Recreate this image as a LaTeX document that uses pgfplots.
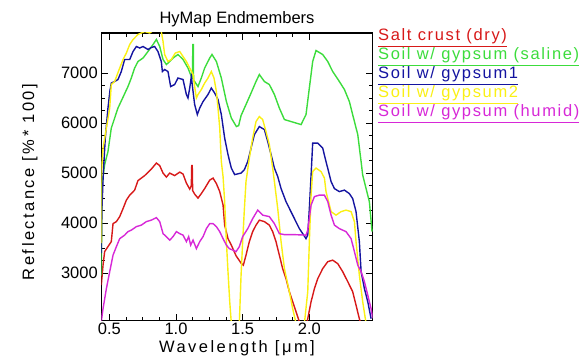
\documentclass[border=0pt]{standalone}
\usepackage{pgfplots}
\pgfplotsset{compat=1.18}
\usepackage{fontspec}
\setmainfont{Liberation Sans}
\newfontfamily\ylabfont[LetterSpace=15]{Liberation Sans}
\newfontfamily\xlabfont[LetterSpace=15]{Liberation Sans}
\newfontfamily\legfont[LetterSpace=10]{Liberation Sans}
\definecolor{cred}{RGB}{215,25,25}
\definecolor{cgreen}{RGB}{60,220,60}
\definecolor{cblue}{RGB}{20,20,160}
\definecolor{cyellow}{RGB}{250,240,20}
\definecolor{cmag}{RGB}{215,40,215}
\newcommand{\fs}{\fontsize{16.5bp}{19bp}\selectfont}
\begin{document}
\begin{tikzpicture}
\begin{axis}[
  at={(101.3bp,42.3bp)}, anchor=south west, scale only axis,
  width=271.4bp, height=287.7bp,
  xmin=0.44, xmax=2.475, ymin=2050, ymax=7800,
  xtick={0.5,1,1.5,2}, xticklabels={0.5,1.0,1.5,2.0},
  ytick={3000,4000,5000,6000,7000}, yticklabels={3000,4000,5000,6000,7000},
  minor x tick num=3, minor y tick num=3,
  major tick length=7bp, minor tick length=4bp,
  tick style={black, line width=0.8bp},
  axis line style={line width=1.2bp},
  tick label style={font=\fs},
  xticklabel style={inner sep=1bp, yshift=-1bp},
  /pgf/number format/assume math mode=true,
  every axis plot/.append style={line width=1.4bp, mark=none},
]
% Salt crust (dry)
\addplot[cred] coordinates {
(0.440,2760) (0.453,3160) (0.465,3430) (0.490,3530) (0.515,3630) (0.528,3990) (0.553,4030) (0.578,4130) (0.603,4290) (0.628,4460) (0.653,4560) (0.690,4660) (0.715,4850) (0.765,4950) (0.815,5080) (0.853,5200) (0.878,5150) (0.903,5000) (0.928,4920) (0.953,5000) (0.990,4950) (1.028,5020) (1.053,4980) (1.078,4800) (1.103,4680) (1.115,4750) (1.118,5150) (1.122,5150) (1.125,4650) (1.140,4580) (1.165,4500) (1.190,4590) (1.215,4690) (1.253,4860) (1.278,4900) (1.303,4790) (1.328,4630) (1.353,4360) (1.365,3960) (1.390,3690) (1.415,3560) (1.450,3350) (1.488,3200) (1.505,3160) (1.525,3360) (1.550,3630) (1.575,3830) (1.600,3960) (1.625,4060) (1.663,4030) (1.700,3960) (1.725,3830) (1.750,3630) (1.775,3360) (1.800,3090) (1.825,2890) (1.850,2630) (1.875,2430) (1.900,2230) (1.925,2030) (1.940,1950) (1.975,1950) (1.988,2090) (2.013,2430) (2.038,2690) (2.063,2890) (2.100,3090) (2.138,3230) (2.175,3260) (2.213,3190) (2.250,3030) (2.288,2830) (2.325,2630) (2.350,2360) (2.375,2090) (2.390,1950)
};
% Soil w/ gypsum (saline)
\addplot[cgreen] coordinates {
(0.440,2950) (0.445,4750) (0.465,5170) (0.490,5430) (0.515,5900) (0.540,6100) (0.565,6300) (0.600,6500) (0.640,6730) (0.665,6900) (0.690,7100) (0.715,7230) (0.753,7300) (0.790,7430) (0.828,7570) (0.853,7670) (0.878,7530) (0.903,7270) (0.928,7170) (0.953,7230) (0.978,7300) (1.015,7370) (1.053,7270) (1.090,7100) (1.115,6930) (1.124,6900) (1.126,7570) (1.130,7570) (1.132,6850) (1.140,6830) (1.165,6730) (1.190,6900) (1.215,7100) (1.253,7300) (1.270,7370) (1.303,7230) (1.340,6900) (1.378,6430) (1.415,6100) (1.453,5930) (1.470,5950) (1.488,6150) (1.525,6370) (1.563,6600) (1.600,6830) (1.625,6970) (1.663,6830) (1.700,6770) (1.738,6570) (1.775,6300) (1.813,6070) (1.863,6030) (1.938,5970) (1.975,6170) (2.000,6700) (2.025,7230) (2.050,7450) (2.100,7370) (2.138,7230) (2.175,7030) (2.225,6830) (2.263,6670) (2.300,6430) (2.338,6030) (2.363,5770) (2.388,5230) (2.400,4960) (2.450,4430) (2.470,3830)
};
% Soil w/ gypsum1
\addplot[cblue] coordinates {
(0.440,3400) (0.445,4300) (0.455,5000) (0.470,5700) (0.490,6300) (0.505,6650) (0.515,6800) (0.540,6830) (0.565,6870) (0.590,7030) (0.615,7270) (0.653,7270) (0.678,7430) (0.703,7530) (0.728,7500) (0.753,7530) (0.790,7470) (0.815,7510) (0.840,7530) (0.865,7430) (0.890,7230) (0.898,7030) (0.915,7070) (0.940,7030) (0.960,6730) (0.990,6770) (1.015,6900) (1.053,6870) (1.078,6570) (1.090,6500) (1.103,6700) (1.115,6930) (1.128,6630) (1.140,6370) (1.160,6170) (1.178,6300) (1.203,6430) (1.240,6570) (1.265,6700) (1.290,6600) (1.315,6470) (1.340,6170) (1.365,5700) (1.390,5370) (1.415,5100) (1.440,4970) (1.488,5000) (1.513,5070) (1.538,5230) (1.563,5500) (1.588,5770) (1.625,5930) (1.663,5870) (1.688,5630) (1.713,5370) (1.738,5100) (1.763,4930) (1.788,4690) (1.825,4430) (1.875,4160) (1.925,3890) (1.975,3690) (1.988,3760) (2.000,4290) (2.013,4960) (2.025,5600) (2.063,5600) (2.100,5500) (2.125,5230) (2.150,4970) (2.163,4830) (2.188,4690) (2.225,4630) (2.263,4660) (2.300,4590) (2.325,4490) (2.350,4230) (2.375,3630) (2.388,3030) (2.413,2690) (2.438,2430) (2.463,2090)
};
% Soil w/ gypsum2
\addplot[cyellow] coordinates {
(0.440,3600) (0.442,5030) (0.453,5500) (0.478,5900) (0.503,6300) (0.515,6770) (0.540,6830) (0.578,7100) (0.603,7270) (0.628,7400) (0.653,7570) (0.678,7670) (0.715,7770) (0.765,7830) (0.803,7800) (0.840,7870) (0.890,7830) (0.903,7630) (0.915,7370) (0.940,7230) (0.965,7270) (0.995,7400) (1.028,7430) (1.053,7330) (1.078,7230) (1.103,7100) (1.128,6970) (1.140,6730) (1.153,6500) (1.165,6570) (1.190,6670) (1.215,6800) (1.240,6900) (1.265,7030) (1.285,6900) (1.303,6630) (1.315,6300) (1.328,5900) (1.340,5230) (1.353,4930) (1.365,4430) (1.378,3630) (1.390,3030) (1.403,2430) (1.415,2000) (1.475,2000) (1.488,2960) (1.500,3630) (1.513,4290) (1.525,4830) (1.550,5300) (1.575,5700) (1.600,6030) (1.625,6130) (1.650,6070) (1.675,5830) (1.700,5570) (1.725,5100) (1.738,4830) (1.763,4290) (1.788,3630) (1.813,3090) (1.850,2630) (1.875,2290) (1.900,2000) (1.963,2000) (1.988,2630) (2.000,3630) (2.013,4560) (2.025,5030) (2.050,5100) (2.088,5030) (2.113,4900) (2.125,4630) (2.163,4230) (2.200,4160) (2.238,4230) (2.275,4260) (2.313,4230) (2.338,4030) (2.350,3630) (2.375,2960) (2.400,2430) (2.425,2000)
};
% Soil w/ gypsum (humid)
\addplot[cmag] coordinates {
(0.440,2030) (0.453,2290) (0.478,2690) (0.503,3030) (0.528,3360) (0.553,3530) (0.578,3690) (0.615,3760) (0.640,3830) (0.665,3860) (0.703,3930) (0.740,3960) (0.778,4030) (0.815,4060) (0.853,4110) (0.878,4030) (0.903,3790) (0.928,3730) (0.953,3660) (0.978,3730) (1.003,3830) (1.028,3790) (1.053,3760) (1.078,3630) (1.095,3730) (1.110,3560) (1.128,3660) (1.153,3490) (1.178,3630) (1.203,3730) (1.228,3890) (1.253,3990) (1.278,3990) (1.303,3930) (1.328,3830) (1.353,3690) (1.378,3560) (1.400,3490) (1.428,3460) (1.450,3430) (1.475,3530) (1.500,3730) (1.538,3890) (1.575,4090) (1.613,4260) (1.650,4160) (1.700,4130) (1.738,3990) (1.775,3790) (1.813,3770) (1.888,3770) (1.975,3760) (1.988,3860) (2.013,4360) (2.038,4530) (2.075,4560) (2.113,4560) (2.138,4430) (2.163,4160) (2.188,3960) (2.225,3890) (2.275,3830) (2.313,3690) (2.338,3430) (2.363,3160) (2.388,3030) (2.413,2830) (2.438,2560) (2.463,2290) (2.475,2100)
};
\end{axis}
\node[anchor=base, font=\fs, inner sep=0pt] at (237bp,339bp) {HyMap Endmembers};
\node[anchor=base, font=\fs\xlabfont, inner sep=0pt] at (237bp,10.5bp) {Wavelength [μm]};
\node[anchor=base, rotate=90, font=\fs\ylabfont, inner sep=0pt] at (34bp,181bp) {Reflectance [\%* 100]};
\begin{scope}[every node/.style={anchor=base west, font=\fs\legfont, inner sep=0pt}]
\node[text=cred] at (378bp,322bp) {\underline{Salt crust (dry)}};
\node[text=cgreen] at (378bp,303bp) {\underline{Soil w/ gypsum (saline)}};
\node[text=cblue] at (378bp,284bp) {\underline{Soil w/ gypsum1}};
\node[text=cyellow] at (378bp,265bp) {\underline{Soil w/ gypsum2}};
\node[text=cmag] at (378bp,246bp) {\underline{Soil w/ gypsum (humid)}};
\end{scope}
\pgfresetboundingbox
\path[use as bounding box] (0bp,0bp) rectangle (584bp,363bp);
\end{tikzpicture}
\end{document}
